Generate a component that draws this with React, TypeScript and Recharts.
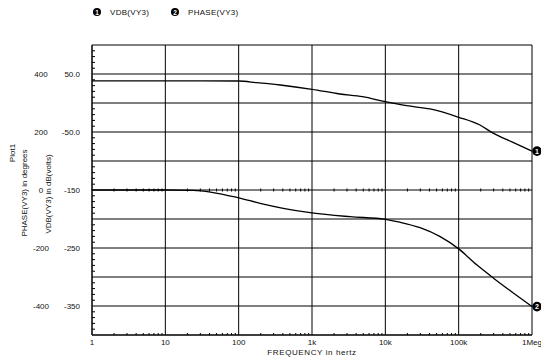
import React from 'react';
import { ComposedChart, Line, XAxis, YAxis, CartesianGrid, Scatter } from 'recharts';

// ---- data ----
const vdbFreq = [1, 10, 100, 177, 370, 1000, 2400, 4900, 10000, 19500, 40700, 100000, 195000, 295000, 550000, 1000000];
const vdbValues = [38, 38, 37.9, 35, 31, 23.6, 15.5, 10.9, 2.2, -4.7, -10.3, -24.6, -38, -52, -67.8, -83];

const phaseFreq = [1, 10, 24, 100, 196, 405, 1000, 3300, 10000, 15800, 29800, 56000, 100000, 178000, 299000, 562000, 1000000];
const phaseValues = [0, 0, -1, -27, -46, -63, -79, -92, -101, -111, -130, -161, -203, -259, -304, -356, -402];

const xTicks = [1, 10, 100, 1000, 10000, 100000, 1000000];
const xTickLabels = ['1', '10', '100', '1k', '10k', '100k', '1Meg'];

const vdbTicks = [-400, -350, -300, -250, -200, -150, -100, -50, 0, 50, 100];
const vdbLabeled = [50, -50, -150, -250, -350];
const vdbLabelText = ['50.0', '-50.0', '-150', '-250', '-350'];

const phaseTicks = [-400, -200, 0, 200, 400];
const phaseTickLabels = ['-400', '-200', '0', '200', '400'];

const decades = [1, 10, 100, 1000, 10000, 100000];
const minorMultipliers = [2, 3, 4, 5, 6, 7, 8, 9];
const leftMinorSteps = [10, 20, 30, 40];

const legendItems = ['VDB(VY3)', 'PHASE(VY3)'];

// ---- tables built from the arrays ----
const vdbData = vdbFreq.map((f, i) => ({ f, v: vdbValues[i] }));
const phaseData = phaseFreq.map((f, i) => ({ f, v: phaseValues[i] }));
const minorFreqs = decades.flatMap((d) => minorMultipliers.map((m) => m * d));
const bottomMinor = minorFreqs.map((f) => ({ f, v: -400 }));
const midMinor = minorFreqs.map((f) => ({ f, v: -150 }));
const leftMinor = vdbTicks.slice(0, -1).flatMap((t) => leftMinorSteps.map((s) => ({ f: 1, v: t + s })));

const FONT = '"Liberation Sans", Arial, sans-serif';
const VDB = 'a_vdb';
const PH = 'b_phase';

const endMarker = (num: string, lastIndex: number) => (props: any) => {
  const { cx, cy, index } = props;
  if (index !== lastIndex) return <g key={`d${index}`} />;
  return (
    <g key={`d${index}`}>
      <circle cx={cx + 5} cy={cy} r={4.8} fill="#000" />
      <text x={cx + 5} y={cy + 2.5} textAnchor="middle" fontSize={7} fontWeight="bold" fill="#fff" fontFamily={FONT}>
        {num}
      </text>
    </g>
  );
};

const PhaseAxisLabel = () => {
  const cy = 193;
  return (
    <g fontFamily={FONT} fontSize={8} fill="#111">
      <text x={12} y={153} transform={`rotate(-90 12 153)`} textAnchor="middle" dy={3}>Plot1</text>
      <text x={24} y={cy} transform={`rotate(-90 24 ${cy})`} textAnchor="middle" dy={3}>PHASE(VY3) in degrees</text>
    </g>
  );
};

const VdbAxisLabel = () => {
  const cy = 194;
  return (
    <text x={48} y={cy} transform={`rotate(-90 48 ${cy})`} textAnchor="middle" dy={3} fontFamily={FONT} fontSize={8} fill="#111">
      VDB(VY3) in dB(volts)
    </text>
  );
};

const XLabel = (props: any) => {
  const vb = props.viewBox || { x: 92, width: 440 };
  return (
    <text x={vb.x + vb.width / 2} y={355} textAnchor="middle" fontFamily={FONT} fontSize={8} fill="#111" letterSpacing={0.6}>
      FREQUENCY in hertz
    </text>
  );
};

export default function App() {
  return (
    <div style={{ position: 'absolute', left: 0, top: 0, width: 541, height: 358, background: '#fff' }}>
      <div style={{ position: 'absolute', left: 0, top: 0, width: 541, height: 30, fontFamily: FONT, fontSize: 8, color: '#111' }}>
        {legendItems.map((name, i) => (
          <div key={name} style={{ position: 'absolute', left: i === 0 ? 92 : 170, top: 7, display: 'flex', alignItems: 'center' }}>
            <svg width={10} height={10} style={{ display: 'block' }}>
              <circle cx={5} cy={5} r={4} fill="#000" />
              <text x={5} y={7.5} textAnchor="middle" fontSize={6.5} fontWeight="bold" fill="#fff" fontFamily={FONT}>{i + 1}</text>
            </svg>
            <span style={{ marginLeft: 8, letterSpacing: 0.3 }}>{name}</span>
          </div>
        ))}
      </div>
      <ComposedChart width={541} height={358} margin={{ top: 45, right: 9, bottom: 0, left: 0 }}>
        <CartesianGrid xAxisId="x" yAxisId={VDB} stroke="#000" strokeWidth={1} fill="none" />
        <XAxis
          xAxisId="x"
          dataKey="f"
          type="number"
          scale="log"
          domain={[1, 1000000]}
          ticks={xTicks}
          tickFormatter={(v: number) => xTickLabels[xTicks.indexOf(v)] ?? ''}
          height={23}
          tickSize={0}
          tickMargin={4}
          axisLine={{ stroke: '#000' }}
          tick={{ fontSize: 8, fill: '#111', fontFamily: FONT }}
          interval={0}
          label={<XLabel />}
        />
        <YAxis
          yAxisId={VDB}
          orientation="left"
          dataKey="v"
          type="number"
          domain={[-400, 100]}
          ticks={vdbTicks}
          tickFormatter={(v: number) => {
            const k = vdbLabeled.indexOf(v);
            return k >= 0 ? vdbLabelText[k] : '';
          }}
          width={42}
          tickSize={0}
          tickMargin={12}
          axisLine={{ stroke: '#000' }}
          tickLine={false}
          interval={0}
          tick={{ fontSize: 8, fill: '#111', fontFamily: FONT }}
          label={<VdbAxisLabel />}
        />
        <YAxis
          yAxisId={PH}
          orientation="left"
          type="number"
          domain={[-500, 500]}
          ticks={phaseTicks}
          tickFormatter={(v: number) => phaseTickLabels[phaseTicks.indexOf(v)] ?? ''}
          width={50}
          tickSize={0}
          tickMargin={9}
          axisLine={false}
          tickLine={false}
          interval={0}
          tick={{ fontSize: 8, fill: '#111', fontFamily: FONT, textAnchor: 'middle' }}
          label={<PhaseAxisLabel />}
        />
        <Scatter
          xAxisId="x"
          yAxisId={VDB}
          data={leftMinor}
          dataKey="v"
          isAnimationActive={false}
          shape={(p: any) => <line x1={p.cx} x2={p.cx + 3} y1={p.cy} y2={p.cy} stroke="#000" strokeWidth={1} />}
        />
        <Scatter
          xAxisId="x"
          yAxisId={VDB}
          data={bottomMinor}
          dataKey="v"
          isAnimationActive={false}
          shape={(p: any) => <line x1={p.cx} x2={p.cx} y1={p.cy} y2={p.cy - 2} stroke="#000" strokeWidth={1} />}
        />
        <Scatter
          xAxisId="x"
          yAxisId={VDB}
          data={midMinor}
          dataKey="v"
          isAnimationActive={false}
          shape={(p: any) => <line x1={p.cx} x2={p.cx} y1={p.cy - 1.5} y2={p.cy + 1.5} stroke="#000" strokeWidth={1} />}
        />
        <Line
          xAxisId="x"
          yAxisId={VDB}
          data={vdbData}
          dataKey="v"
          type="monotone"
          stroke="#000"
          strokeWidth={1.3}
          dot={endMarker('1', vdbData.length - 1)}
          activeDot={false}
          isAnimationActive={false}
        />
        <Line
          xAxisId="x"
          yAxisId={PH}
          data={phaseData}
          dataKey="v"
          type="monotone"
          stroke="#000"
          strokeWidth={1.3}
          dot={endMarker('2', phaseData.length - 1)}
          activeDot={false}
          isAnimationActive={false}
        />
      </ComposedChart>
    </div>
  );
}
